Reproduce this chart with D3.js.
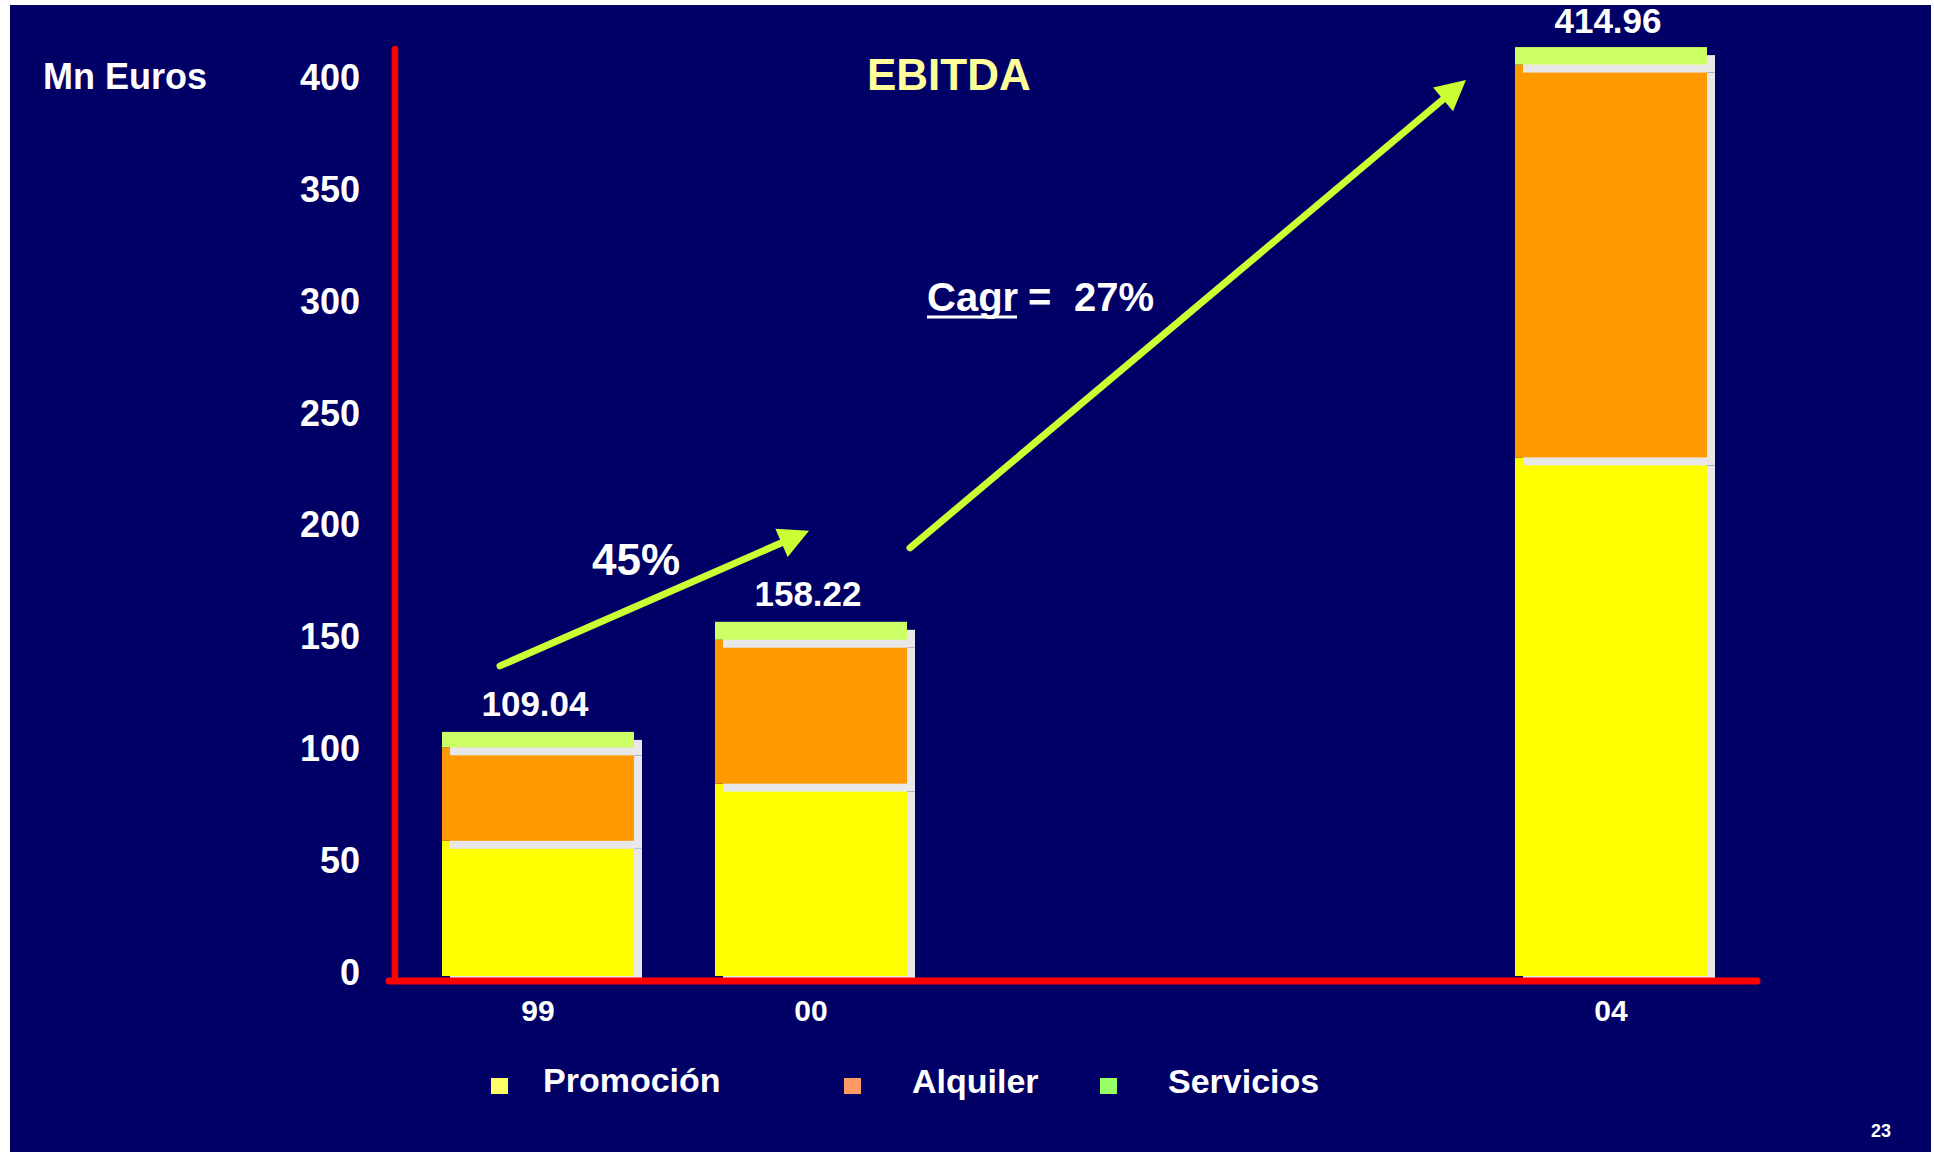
<!DOCTYPE html>
<html>
<head>
<meta charset="utf-8">
<script src="https://cdn.jsdelivr.net/npm/d3@7"></script>
<style>
  html, body { margin: 0; padding: 0; background: #ffffff; }
  svg { display: block; }
  text { font-family: "Liberation Sans", Arial, Helvetica, sans-serif; font-weight: bold; }
</style>
</head>
<body>
<svg id="chart" width="1934" height="1152"></svg>
<script>
// EBITDA by business line, million euros
const years = ["99", "00", "04"];
const seriesNames = ["Promoción", "Alquiler", "Servicios"];
const promocion = [60.40, 85.93, 231.66];
const alquiler = [41.74, 64.29, 175.50];
const servicios = [6.90, 8.00, 7.80];
const totals = [109.04, 158.22, 414.96];
const yTicks = [0, 50, 100, 150, 200, 250, 300, 350, 400];
const growthLabel = "45%";
const cagrWord = "Cagr";
const cagrValue = "27%";

const svg = d3.select("#chart");

// slide background
svg.append("rect").attr("x", 10).attr("y", 5).attr("width", 1921).attr("height", 1147).attr("fill", "#000066");

const y = d3.scaleLinear().domain([0, 415]).range([976, 47]);
const xc = d3.scaleOrdinal().domain(years).range([538, 811, 1611]);
const barW = 192;
const shadow = 8;

const segColors = d3.scaleOrdinal().domain(seriesNames).range(["#ffff00", "#ff9900", "#ccff66"]);
const legendColors = d3.scaleOrdinal().domain(seriesNames).range(["#ffff66", "#ff9966", "#99ff66"]);

const rows = years.map((yr, i) => ({
  year: yr,
  "Promoción": promocion[i],
  "Alquiler": alquiler[i],
  "Servicios": servicios[i]
}));
const stacked = d3.stack().keys(seriesNames)(rows);

// bars: each segment with its offset light-grey shadow, bottom to top
const barsG = svg.append("g");
stacked.forEach(layer => {
  layer.forEach(d => {
    const x0 = xc(d.data.year) - barW / 2;
    const top = y(d[1]);
    const h = y(d[0]) - y(d[1]);
    barsG.append("rect")
      .attr("x", x0 + shadow).attr("y", top + shadow)
      .attr("width", barW).attr("height", h)
      .attr("fill", "#e8e8e8");
    barsG.append("rect")
      .attr("x", x0).attr("y", top)
      .attr("width", barW).attr("height", h)
      .attr("fill", segColors(layer.key));
  });
});

// axes lines
svg.append("line")
  .attr("x1", 395).attr("x2", 395)
  .attr("y1", y(415) + 2).attr("y2", y(0) + 5)
  .attr("stroke", "#ff0000").attr("stroke-width", 6.5).attr("stroke-linecap", "round");
svg.append("line")
  .attr("x1", 389).attr("x2", 1757)
  .attr("y1", y(0) + 5).attr("y2", y(0) + 5)
  .attr("stroke", "#ff0000").attr("stroke-width", 7).attr("stroke-linecap", "round");

// y tick labels
const yAxis = d3.axisLeft(y).tickValues(yTicks).tickSize(0).tickPadding(35).tickFormat(d3.format("d"));
const yAxisG = svg.append("g").attr("transform", "translate(395,0)").call(yAxis);
yAxisG.select(".domain").remove();
yAxisG.selectAll("text")
  .attr("fill", "#ffffff")
  .style("font-size", "36px")
  .style("font-family", "'Liberation Sans', Arial, sans-serif")
  .style("font-weight", "bold")
  .attr("dy", "0.24em");

// x category labels
svg.append("g").selectAll("text").data(years).join("text")
  .attr("x", d => xc(d))
  .attr("y", 1021)
  .attr("text-anchor", "middle")
  .attr("fill", "#ffffff")
  .style("font-size", "30px")
  .text(d => d);

// total labels above each bar
svg.append("g").selectAll("text").data(years).join("text")
  .attr("x", d => xc(d) - 3)
  .attr("y", (d, i) => Math.max(y(totals[i]) - 16, 33))
  .attr("text-anchor", "middle")
  .attr("fill", "#ffffff")
  .style("font-size", "35px")
  .text((d, i) => d3.format(".2f")(totals[i]));

// axis unit and title
svg.append("text").attr("x", 43).attr("y", 89).attr("fill", "#ffffff").style("font-size", "36px").text("Mn Euros");
svg.append("text").attr("x", 867).attr("y", 90).attr("fill", "#ffff99").style("font-size", "44px").text("EBITDA");

// growth arrows, anchored to the bar tops
const arrowColor = "#ccff33";
function arrow(a) {
  const dx = a.x2 - a.x1, dy = a.y2 - a.y1, len = Math.hypot(dx, dy);
  const ux = dx / len, uy = dy / len;
  const headL = 30, headW = 15.5;
  const bx = a.x2 - ux * headL, by = a.y2 - uy * headL;
  svg.append("line")
    .attr("x1", a.x1).attr("y1", a.y1).attr("x2", bx + ux * 2).attr("y2", by + uy * 2)
    .attr("stroke", arrowColor).attr("stroke-width", 7).attr("stroke-linecap", "round");
  svg.append("path")
    .attr("d", `M${a.x2},${a.y2}L${bx - uy * headW},${by + ux * headW}L${bx + uy * headW},${by - ux * headW}Z`)
    .attr("fill", arrowColor);
}
const top99 = y(totals[0]), top00 = y(totals[1]), top04 = y(totals[2]);
const a1 = { x1: xc("99") - 38, y1: top99 - 66, x2: xc("00") - 2, y2: top00 - 91 };
const a2 = { x1: xc("00") + 99, y1: top00 - 74, x2: xc("04") - 145, y2: top04 + 33 };
arrow(a1);
arrow(a2);

function lineYAt(a, x) { return a.y1 + (x - a.x1) * (a.y2 - a.y1) / (a.x2 - a.x1); }

svg.append("text")
  .attr("x", 636).attr("y", lineYAt(a1, 636) - 31)
  .attr("text-anchor", "middle")
  .attr("fill", "#ffffff").style("font-size", "44px")
  .text(growthLabel);

// Cagr annotation, kept clear above the long arrow
const cagrBase = lineYAt(a2, 1163) - 24;
const cagrG = svg.append("g").attr("fill", "#ffffff").style("font-size", "40px");
cagrG.append("text").attr("x", 927).attr("y", cagrBase).text(cagrWord);
cagrG.append("text").attr("x", 1028).attr("y", cagrBase).text("=");
cagrG.append("text").attr("x", 1074).attr("y", cagrBase).text(cagrValue);
svg.append("line")
  .attr("x1", 927).attr("x2", 1017)
  .attr("y1", cagrBase + 6).attr("y2", cagrBase + 6)
  .attr("stroke", "#ffffff").attr("stroke-width", 3);

// legend
const legendX = [{ sw: 491, tx: 543, base: 1092 }, { sw: 844, tx: 912, base: 1093 }, { sw: 1100, tx: 1168, base: 1093 }];
const lg = svg.append("g");
seriesNames.forEach((name, i) => {
  lg.append("rect")
    .attr("x", legendX[i].sw).attr("y", 1078)
    .attr("width", 17).attr("height", 16)
    .attr("fill", legendColors(name));
  lg.append("text")
    .attr("x", legendX[i].tx).attr("y", legendX[i].base)
    .attr("fill", "#ffffff").style("font-size", "34px")
    .text(name);
});

// page number
svg.append("text").attr("x", 1881).attr("y", 1137).attr("text-anchor", "middle")
  .attr("fill", "#ffffff").style("font-size", "18px").text("23");
</script>
</body>
</html>
